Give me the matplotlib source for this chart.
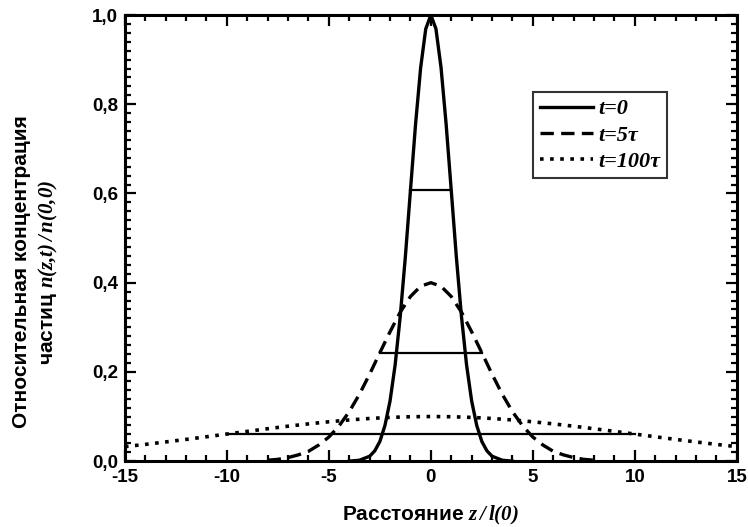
import matplotlib.pyplot as plt
from matplotlib.ticker import MultipleLocator, FuncFormatter

plt.rcParams['font.family'] = ['Liberation Sans', 'DejaVu Sans']
plt.rcParams['font.weight'] = 'bold'
plt.rcParams['axes.unicode_minus'] = False
plt.rcParams['mathtext.fontset'] = 'custom'
plt.rcParams['mathtext.it'] = 'Liberation Serif:italic:bold'
plt.rcParams['mathtext.rm'] = 'Liberation Serif:italic:bold'

# t = 0
z0 = [-4, -3.5, -3, -2.75, -2.5, -2.25, -2, -1.75, -1.5, -1.25, -1, -0.75, -0.5, -0.25, 0,
      0.25, 0.5, 0.75, 1, 1.25, 1.5, 1.75, 2, 2.25, 2.5, 2.75, 3, 3.5, 4]
n0 = [0.0, 0.002, 0.011, 0.023, 0.044, 0.080, 0.135, 0.216, 0.325, 0.458, 0.607, 0.755, 0.882, 0.969, 1.0,
      0.969, 0.882, 0.755, 0.607, 0.458, 0.325, 0.216, 0.135, 0.080, 0.044, 0.023, 0.011, 0.002, 0.0]

# t = 5 tau
z5 = [-8, -7.5, -7, -6.5, -6, -5.5, -5, -4.5, -4, -3.5, -3, -2.5, -2, -1.5, -1, -0.5, 0,
      0.5, 1, 1.5, 2, 2.5, 3, 3.5, 4, 4.5, 5, 5.5, 6, 6.5, 7, 7.5, 8]
n5 = [0.002, 0.004, 0.008, 0.014, 0.022, 0.036, 0.054, 0.079, 0.111, 0.150, 0.195, 0.243, 0.290, 0.334, 0.369, 0.392, 0.400,
      0.392, 0.369, 0.334, 0.290, 0.243, 0.195, 0.150, 0.111, 0.079, 0.054, 0.036, 0.022, 0.014, 0.008, 0.004, 0.002]

# t = 100 tau
z100 = list(range(-15, 16))
n100 = [0.0325, 0.0375, 0.0430, 0.0487, 0.0546, 0.0607, 0.0667, 0.0726, 0.0783, 0.0835, 0.0882, 0.0923, 0.0956, 0.098, 0.0995, 0.100,
        0.0995, 0.098, 0.0956, 0.0923, 0.0882, 0.0835, 0.0783, 0.0726, 0.0667, 0.0607, 0.0546, 0.0487, 0.0430, 0.0375, 0.0325]

# half-width markers (level, z from, z to)
hw_level = [0.607, 0.243, 0.061]
hw_from = [-1, -2.5, -10]
hw_to = [1, 2.5, 10]

labels = ['t=0', 't=5τ', 't=100τ']

fig = plt.figure(figsize=(7.48, 5.27), dpi=100)
ax = fig.add_axes([0.167, 0.125, 0.818, 0.8465])

ax.plot(z0, n0, '-', color='black', lw=2.4, label=labels[0])
ax.plot(z5, n5, '--', color='black', lw=2.4, dashes=(4, 2.2), label=labels[1])
ax.plot(z100, n100, ':', color='black', lw=2.6, dashes=(1, 1.8), label=labels[2])
for lev, a, b in zip(hw_level, hw_from, hw_to):
    ax.plot([a, b], [lev, lev], '-', color='black', lw=1.6)

ax.set_xlim(-15, 15)
ax.set_ylim(0, 1.0)
ax.xaxis.set_major_locator(MultipleLocator(5))
ax.xaxis.set_minor_locator(MultipleLocator(1))
ax.yaxis.set_major_locator(MultipleLocator(0.2))
ax.yaxis.set_minor_locator(MultipleLocator(0.02))
ax.yaxis.set_major_formatter(FuncFormatter(lambda v, p: ('%.1f' % v).replace('.', ',')))
ax.tick_params(which='both', direction='in', top=True, right=True, width=1.6, labelsize=13.5)
ax.tick_params(which='major', length=8, pad=5)
ax.tick_params(axis='x', which='major', pad=6)
ax.tick_params(which='minor', length=4)
for s in ax.spines.values():
    s.set_linewidth(2.2)

ax.set_xlabel('Расстояние $z\\,/\\,l(0)$', fontsize=15, fontweight='bold')
ax.xaxis.set_label_coords(0.5, -0.095)
ax.set_ylabel('Относительная концентрация\nчастиц $n(z{,}t)\\,/\\,n(0{,}0)$', fontsize=15,
              fontweight='bold', linespacing=1.35)
ax.yaxis.set_label_coords(-0.106, 0.424)

leg = ax.legend(loc='upper left', bbox_to_anchor=(0.667, 0.827), frameon=True,
                prop=dict(family='Liberation Serif', style='italic', weight='bold', size=16),
                fancybox=False, edgecolor='black', handlelength=2.4, borderpad=0.3,
                labelspacing=0.25, handletextpad=0.25, borderaxespad=0.0)
leg.get_frame().set_linewidth(1.5)

fig.savefig('out.png', dpi=100)
